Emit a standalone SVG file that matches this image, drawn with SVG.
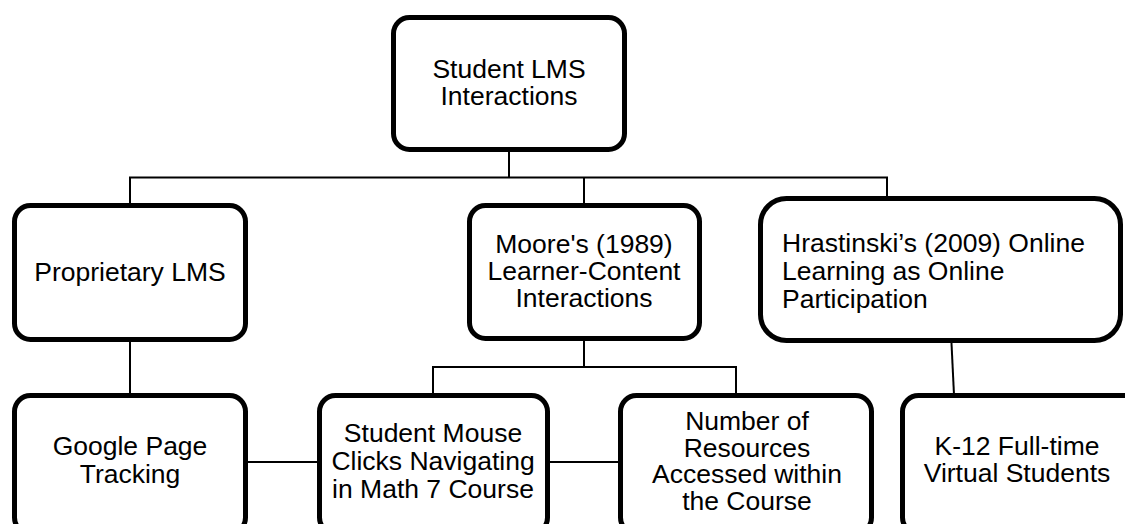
<svg xmlns="http://www.w3.org/2000/svg" width="1125" height="524" viewBox="0 0 1125 524">
<style>
.box{fill:#fff;stroke:#000;stroke-width:5}
.t{font-family:"Liberation Sans",Arial,sans-serif;font-size:26.5px;fill:#000;text-anchor:middle}
.tl{font-family:"Liberation Sans",Arial,sans-serif;font-size:26.5px;fill:#000}
.c{stroke:#000;stroke-width:2;fill:none}
</style>
<defs>
<clipPath id="hclip"><rect x="760" y="198" width="362" height="115"/></clipPath>
</defs>
<rect width="1125" height="524" fill="#fff"/>
<g id="connectors">
<line class="c" x1="509" y1="150" x2="509" y2="177.5"/>
<line class="c" x1="129" y1="177.5" x2="888" y2="177.5"/>
<line class="c" x1="130" y1="177.5" x2="130" y2="205"/>
<line class="c" x1="584" y1="177.5" x2="584" y2="205"/>
<line class="c" x1="887" y1="177.5" x2="887" y2="198"/>
<line class="c" x1="130" y1="340" x2="130" y2="395" stroke-width="3"/>
<line class="c" x1="584" y1="339" x2="584" y2="367"/>
<line class="c" x1="432" y1="367" x2="737" y2="367"/>
<line class="c" x1="433" y1="367" x2="433" y2="395"/>
<line class="c" x1="736" y1="367" x2="736" y2="395"/>
<line class="c" x1="951" y1="333" x2="954" y2="395" stroke-width="1.5"/>
<line class="c" x1="246" y1="462" x2="319" y2="462"/>
<line class="c" x1="548" y1="462" x2="620" y2="462"/>
</g>
<g id="n-root">
<rect class="box" x="393.5" y="17.5" width="231" height="132" rx="16"/>
<text class="t" x="509" y="78">Student LMS</text>
<text class="t" x="509" y="105">Interactions</text>
</g>
<g id="n-proprietary">
<rect class="box" x="14.5" y="205.5" width="231" height="134" rx="16"/>
<text class="t" x="130" y="281">Proprietary LMS</text>
</g>
<g id="n-moore">
<rect class="box" x="469.5" y="205.5" width="230" height="133" rx="16"/>
<text class="t" x="584" y="253">Moore's (1989)</text>
<text class="t" x="584" y="280">Learner-Content</text>
<text class="t" x="584" y="307">Interactions</text>
</g>
<g id="n-hrastinski">
<rect class="box" x="760.5" y="198.5" width="360" height="142" rx="26"/>
<g clip-path="url(#hclip)">
<text class="tl" x="782" y="252">Hrastinski’s (2009) Online</text>
<text class="tl" x="782" y="280">Learning as Online</text>
<text class="tl" x="782" y="308">Participation</text>
</g>
</g>
<g id="n-google">
<rect class="box" x="14.5" y="395.5" width="231" height="138" rx="16"/>
<text class="t" x="130" y="455">Google Page</text>
<text class="t" x="130" y="483">Tracking</text>
</g>
<g id="n-mouse">
<rect class="box" x="319.5" y="395.5" width="228" height="138" rx="16"/>
<text class="t" x="433" y="442">Student Mouse</text>
<text class="t" x="433" y="470">Clicks Navigating</text>
<text class="t" x="433" y="498">in Math 7 Course</text>
</g>
<g id="n-resources">
<rect class="box" x="620.5" y="395.5" width="251" height="138" rx="16"/>
<text class="t" x="747" y="430">Number of</text>
<text class="t" x="747" y="457">Resources</text>
<text class="t" x="747" y="483">Accessed within</text>
<text class="t" x="747" y="510">the Course</text>
</g>
<g id="n-k12">
<rect class="box" x="902.5" y="395.5" width="240" height="138" rx="16"/>
<text class="t" x="1017" y="455">K-12 Full-time</text>
<text class="t" x="1017" y="482">Virtual Students</text>
</g>
</svg>
